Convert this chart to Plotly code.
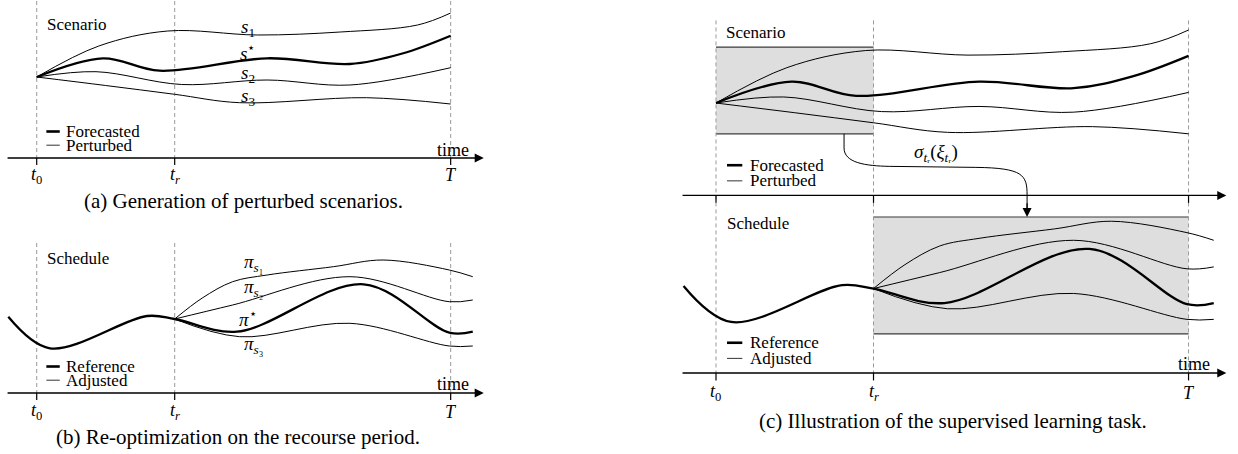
import plotly.graph_objects as go

# ---------------- data (time in units: t0=0, tr=1, T=3; values in arbitrary units) -------------
T0, TR, TEND = 0.0, 1.0, 3.0

# scenarios
s_star_t = [0, 0.48, 0.89, 1.67, 2.27, 2.65, 3.0]
s_star_v = [81, 99.7, 87.3, 99.7, 94, 104.5, 122.3]
s1_t = [0, 0.45, 0.95, 1.6, 2.2, 2.76, 3.0]
s1_v = [81, 112, 127, 123, 126, 133, 145]
s2_t = [0, 0.43, 1.05, 1.67, 2.27, 3.0]
s2_v = [81, 86.3, 73.5, 78, 73, 90.3]
s3_t = [0, 0.5, 1.0, 1.47, 2.39, 3.0]
s3_v = [81, 72.5, 63.7, 55.3, 60.3, 54]

# schedules
ref_t = [-0.206, 0.096, 0.80, 1.0]
ref_v = [76.3, 44.7, 77, 74]
pi_star_t = [1.0, 1.45, 2.37, 2.99, 3.16]
pi_star_v = [74, 61.3, 108.7, 60.3, 61.3]
pi1_t = [1.0, 1.2, 1.42, 1.67, 2.15, 2.51, 2.99, 3.16]
pi1_v = [74, 95, 111.3, 118, 126.3, 133, 123, 116.3]
pi2_t = [1.0, 1.42, 2.27, 2.99, 3.16]
pi2_v = [74, 88, 116.3, 91.3, 93]
pi3_t = [1.0, 1.47, 2.27, 2.99, 3.16]
pi3_v = [74, 56.3, 69.7, 47, 47]

tick_labels = ["<i>t</i><sub>0</sub>", "<i>t</i><sub><i>r</i></sub>", "<i>T</i>"]
tick_pos = [T0, TR, TEND]

# ---------------- styles / geometry --------------------------------------------------------------
W, H = 1238, 454
FONT = "Liberation Serif, Times New Roman, serif"
THICK, THIN = 2.3, 1.0
DASH_COL = "#9a9a9a"
BOX_FILL = "#dedede"
BOX_EDGE = "#3a3a3a"
SCEN_BASE = 155.6  # baseline of scenario axis in panel (c)

fig = go.Figure()


def curve(t, v, xa, ya, width, base=0.0):
    fig.add_trace(go.Scatter(x=t, y=[base + a for a in v], xaxis=xa, yaxis=ya, mode="lines",
                             line=dict(color="black", width=width, shape="spline", smoothing=1.0),
                             hoverinfo="skip", showlegend=False))


# panel (a)
curve(s1_t, s1_v, "x", "y", THIN)
curve(s2_t, s2_v, "x", "y", THIN)
curve(s3_t, s3_v, "x", "y", THIN)
curve(s_star_t, s_star_v, "x", "y", THICK)
# panel (b)
curve(pi1_t, pi1_v, "x2", "y2", THIN)
curve(pi2_t, pi2_v, "x2", "y2", THIN)
curve(pi3_t, pi3_v, "x2", "y2", THIN)
curve(ref_t + pi_star_t[1:], ref_v + pi_star_v[1:], "x2", "y2", THICK)
# panel (c) top (scenarios) and bottom (schedules)
curve(s1_t, s1_v, "x3", "y3", THIN, SCEN_BASE)
curve(s2_t, s2_v, "x3", "y3", THIN, SCEN_BASE)
curve(s3_t, s3_v, "x3", "y3", THIN, SCEN_BASE)
curve(s_star_t, s_star_v, "x3", "y3", THICK, SCEN_BASE)
curve(pi1_t, pi1_v, "x3", "y3", THIN)
curve(pi2_t, pi2_v, "x3", "y3", THIN)
curve(pi3_t, pi3_v, "x3", "y3", THIN)
curve(ref_t + pi_star_t[1:], ref_v + pi_star_v[1:], "x3", "y3", THICK)

shapes = []
annotations = []


def line(xr, yr, x0, y0, x1, y1, color="black", width=1.0, dash="solid", layer="below"):
    shapes.append(dict(type="line", xref=xr, yref=yr, x0=x0, y0=y0, x1=x1, y1=y1, layer=layer,
                       line=dict(color=color, width=width, dash=dash)))


def text(xr, yr, x, y, s, size=17, xanchor="center", yanchor="middle"):
    annotations.append(dict(xref=xr, yref=yr, x=x, y=y, text=s, showarrow=False,
                            xanchor=xanchor, yanchor=yanchor,
                            font=dict(family=FONT, size=size, color="black")))


def axis_arrow(xr, yr, y, x0=-0.222, x1=3.24):
    annotations.append(dict(xref=xr, yref=yr, axref=xr, ayref=yr, x=x1, y=y, ax=x0, ay=y,
                            text="", showarrow=True, arrowhead=2, arrowsize=1.4, arrowwidth=1.3,
                            arrowcolor="black", standoff=0))


# boxes in panel (c)
shapes.append(dict(type="rect", xref="x3", yref="y3", x0=T0, x1=TR, y0=SCEN_BASE + 54, y1=SCEN_BASE + 130,
                   fillcolor=BOX_FILL, line=dict(width=0), layer="below"))
shapes.append(dict(type="rect", xref="x3", yref="y3", x0=TR, x1=TEND, y0=34.2, y1=136.7,
                   fillcolor=BOX_FILL, line=dict(width=0), layer="below"))
for yy in (SCEN_BASE + 54, SCEN_BASE + 130):
    line("x3", "y3", T0, yy, TR, yy, BOX_EDGE, 1.2)
for yy in (34.2, 136.7):
    line("x3", "y3", TR, yy, TEND, yy, BOX_EDGE, 1.2)

# dashed time markers and ticks
for tp in tick_pos:
    line("x", "y", tp, 157, tp, 0, DASH_COL, 1.0, "4px,3px")
    line("x2", "y2", tp, 150, tp, 0, DASH_COL, 1.0, "4px,3px")
    line("x3", "y3", tp, 309, tp, 0, DASH_COL, 1.0, "4px,3px")
    line("x", "y", tp, 0, tp, -7, "black", 1.2)
    line("x2", "y2", tp, 0, tp, -7, "black", 1.2)
    line("x3", "y3", tp, SCEN_BASE, tp, SCEN_BASE - 6.5, "black", 1.2)
    line("x3", "y3", tp, 0, tp, -6.5, "black", 1.2)

# time axes
axis_arrow("x", "y", 0)
axis_arrow("x2", "y2", 0)
axis_arrow("x3", "y3", SCEN_BASE)
axis_arrow("x3", "y3", 0)

# tick labels
for tp, lab in zip(tick_pos, tick_labels):
    text("x", "y", tp, -17, lab, 18)
    text("x2", "y2", tp, -18.7, lab, 18)
    text("x3", "y3", tp, -17.5, lab, 18)

# time labels
text("x", "y", 3.02, 8, "time", 18)
text("x2", "y2", 3.02, 9, "time", 18)
text("x3", "y3", 3.035, 8, "time", 18)

# titles
text("x", "y", 0.06, 134, "Scenario", xanchor="left")
text("x2", "y2", 0.06, 135, "Schedule", xanchor="left")
text("x3", "y3", 0.051, SCEN_BASE + 142.4, "Scenario", xanchor="left")
text("x3", "y3", 0.055, 130.6, "Schedule", xanchor="left")


# legends
def legend(xr, yr, base, thick_lab, thin_lab):
    line(xr, yr, 0.07, base + 26.5, 0.167, base + 26.5, "black", 2.6, layer="above")
    line(xr, yr, 0.07, base + 12.8, 0.167, base + 12.8, "#333333", 1.0, layer="above")
    text(xr, yr, 0.2, base + 26.5, thick_lab, xanchor="left")
    text(xr, yr, 0.2, base + 12.8, thin_lab, xanchor="left")


legend("x", "y", 0, "Forecasted", "Perturbed")
legend("x2", "y2", 0, "Reference", "Adjusted")
legend("x3", "y3", SCEN_BASE, "Forecasted", "Perturbed")
legend("x3", "y3", 0, "Reference", "Adjusted")

# curve labels
LBL = 19
text("x", "y", 1.53, 130, "<i>s</i><sub>1</sub>", LBL)
text("x", "y", 1.53, 106, "<i>s</i><sup>⋆</sup>", LBL)
text("x", "y", 1.53, 84, "<i>s</i><sub>2</sub>", LBL)
text("x", "y", 1.53, 61, "<i>s</i><sub>3</sub>", LBL)
text("x2", "y2", 1.57, 129.7, "<i>π</i><sub><i>s</i>₁</sub>", LBL)
text("x2", "y2", 1.57, 104.7, "<i>π</i><sub><i>s</i>₂</sub>", LBL)
text("x2", "y2", 1.53, 74.7, "<i>π</i><sup>⋆</sup>", LBL)
text("x2", "y2", 1.57, 48, "<i>π</i><sub><i>s</i>₃</sub>", LBL)

# mapping arrow in panel (c)
path = ("M 0.813,{a} L 0.813,197.2 C 0.813,184.1 0.95,181.5 1.1,181.1 "
        "L 1.65,180.2 C 1.95,179.7 1.975,173.5 1.975,156 L 1.975,142").format(a=SCEN_BASE + 54)
shapes.append(dict(type="path", xref="x3", yref="y3", path=path, layer="above",
                   line=dict(color="black", width=1.0)))
annotations.append(dict(xref="x3", yref="y3", axref="x3", ayref="y3", x=1.975, y=136.7, ax=1.975, ay=150,
                        text="", showarrow=True, arrowhead=2, arrowsize=1.5, arrowwidth=1.2,
                        arrowcolor="black", standoff=0))
text("x3", "y3", 1.397, 192.5, "<i>σ</i><sub><i>t</i>ᵣ</sub>(<i>ξ</i><sub><i>t</i>ᵣ</sub>)", LBL)

# captions
CAP = 21
text("x", "y", 1.495, -43, "(a) Generation of perturbed scenarios.", CAP)
text("x2", "y2", 1.459, -44, "(b) Re-optimization on the recourse period.", CAP)
text("x3", "y3", 1.505, -42, "(c) Illustration of the supervised learning task.", CAP)

ax_common = dict(visible=False, fixedrange=True)
fig.update_layout(
    width=W, height=H, margin=dict(l=0, r=0, t=0, b=0),
    paper_bgcolor="white", plot_bgcolor="white", showlegend=False,
    xaxis=dict(domain=[0, 490 / W], range=[-0.266, 3.285], anchor="y", **ax_common),
    yaxis=dict(domain=[1 - 220 / H, 1], range=[-62, 158], anchor="x", **ax_common),
    xaxis2=dict(domain=[0, 490 / W], range=[-0.266, 3.285], anchor="y2", **ax_common),
    yaxis2=dict(domain=[0, 1 - 220 / H], range=[-61, 173], anchor="x2", **ax_common),
    xaxis3=dict(domain=[670 / W, 1], range=[-0.292, 3.314], anchor="y3", **ax_common),
    yaxis3=dict(domain=[0, 1], range=[-71.0, 326.9], anchor="x3", **ax_common),
    shapes=shapes, annotations=annotations,
)

fig.write_html("out.html")
